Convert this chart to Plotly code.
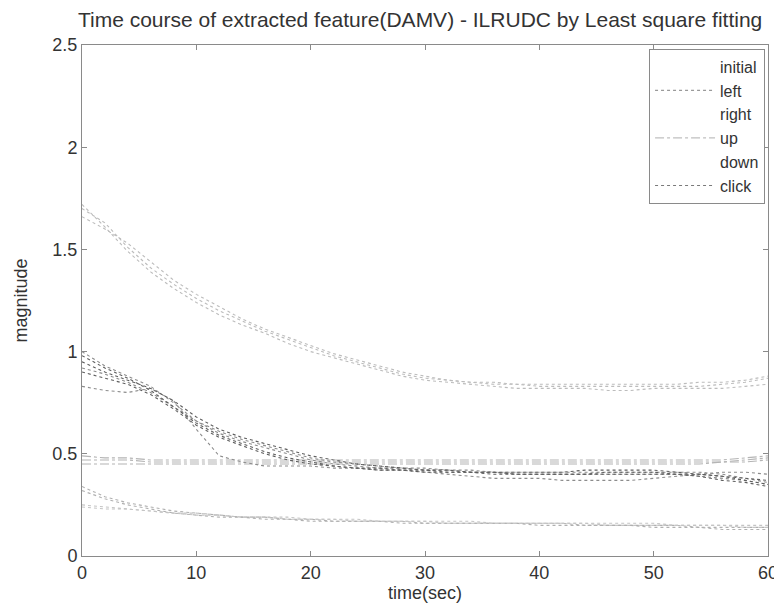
import plotly.graph_objects as go

# time axis (sec)
time_sec = [0, 2, 4, 6, 8, 10, 12, 14, 16, 18, 20, 22, 24, 26, 28, 30,
            32, 34, 36, 38, 40, 42, 44, 46, 48, 50, 52, 54, 56, 58, 60]

# upper group
right_1 = [1.70, 1.63, 1.51, 1.41, 1.33, 1.26, 1.20, 1.15, 1.10, 1.06, 1.02, 0.98, 0.95, 0.92, 0.89, 0.87,
           0.86, 0.85, 0.84, 0.84, 0.83, 0.83, 0.83, 0.83, 0.83, 0.83, 0.83, 0.83, 0.84, 0.85, 0.87]
right_2 = [1.66, 1.60, 1.53, 1.44, 1.35, 1.28, 1.22, 1.16, 1.11, 1.07, 1.03, 0.99, 0.96, 0.93, 0.90, 0.88,
           0.86, 0.85, 0.85, 0.84, 0.84, 0.84, 0.84, 0.84, 0.84, 0.84, 0.84, 0.85, 0.85, 0.86, 0.88]
right_3 = [1.72, 1.61, 1.49, 1.39, 1.31, 1.24, 1.18, 1.13, 1.09, 1.04, 1.00, 0.97, 0.94, 0.91, 0.88, 0.86,
           0.85, 0.84, 0.83, 0.82, 0.82, 0.82, 0.82, 0.81, 0.81, 0.82, 0.82, 0.82, 0.82, 0.83, 0.84]

# descending middle group
left_1 = [1.00, 0.93, 0.88, 0.83, 0.75, 0.66, 0.60, 0.56, 0.53, 0.50, 0.47, 0.45, 0.44, 0.43, 0.43, 0.42,
          0.42, 0.41, 0.41, 0.40, 0.40, 0.40, 0.40, 0.40, 0.40, 0.40, 0.40, 0.39, 0.38, 0.37, 0.35]
left_2 = [0.92, 0.89, 0.85, 0.80, 0.73, 0.66, 0.61, 0.57, 0.54, 0.51, 0.48, 0.46, 0.45, 0.44, 0.43, 0.43,
          0.42, 0.42, 0.41, 0.41, 0.41, 0.41, 0.41, 0.41, 0.41, 0.41, 0.41, 0.41, 0.40, 0.38, 0.36]
left_3 = [0.83, 0.81, 0.80, 0.82, 0.76, 0.62, 0.49, 0.46, 0.44, 0.44, 0.44, 0.43, 0.43, 0.42, 0.42, 0.41,
          0.40, 0.39, 0.38, 0.38, 0.38, 0.37, 0.37, 0.37, 0.37, 0.38, 0.39, 0.40, 0.41, 0.41, 0.40]
click_1 = [0.98, 0.92, 0.87, 0.81, 0.73, 0.65, 0.59, 0.55, 0.51, 0.48, 0.46, 0.44, 0.43, 0.42, 0.42, 0.41,
           0.41, 0.41, 0.40, 0.40, 0.40, 0.40, 0.40, 0.41, 0.41, 0.41, 0.40, 0.39, 0.37, 0.36, 0.34]
click_2 = [0.95, 0.90, 0.86, 0.82, 0.76, 0.68, 0.62, 0.58, 0.55, 0.52, 0.49, 0.47, 0.45, 0.44, 0.43, 0.42,
           0.42, 0.41, 0.41, 0.41, 0.41, 0.41, 0.42, 0.42, 0.42, 0.42, 0.41, 0.40, 0.39, 0.37, 0.35]
click_3 = [0.90, 0.87, 0.84, 0.79, 0.72, 0.64, 0.58, 0.54, 0.50, 0.47, 0.45, 0.44, 0.43, 0.43, 0.42, 0.42,
           0.41, 0.41, 0.41, 0.40, 0.40, 0.40, 0.40, 0.40, 0.40, 0.40, 0.40, 0.40, 0.39, 0.38, 0.37]

# flat group
up_1 = [0.47, 0.47, 0.47, 0.46, 0.46, 0.46, 0.46, 0.46, 0.46, 0.46, 0.46, 0.46, 0.46, 0.46, 0.46, 0.46,
        0.46, 0.46, 0.46, 0.46, 0.46, 0.46, 0.46, 0.46, 0.46, 0.46, 0.46, 0.46, 0.46, 0.47, 0.48]
up_2 = [0.45, 0.45, 0.45, 0.45, 0.45, 0.45, 0.45, 0.45, 0.45, 0.45, 0.45, 0.45, 0.45, 0.45, 0.45, 0.45,
        0.45, 0.45, 0.45, 0.45, 0.45, 0.45, 0.45, 0.45, 0.45, 0.45, 0.45, 0.45, 0.46, 0.46, 0.47]
up_3 = [0.49, 0.48, 0.48, 0.47, 0.47, 0.47, 0.47, 0.47, 0.47, 0.47, 0.47, 0.47, 0.47, 0.47, 0.47, 0.47,
        0.47, 0.47, 0.47, 0.47, 0.47, 0.47, 0.47, 0.47, 0.47, 0.47, 0.47, 0.47, 0.47, 0.48, 0.49]

# lower group
down_1 = [0.34, 0.29, 0.26, 0.24, 0.22, 0.21, 0.20, 0.19, 0.19, 0.18, 0.18, 0.17, 0.17, 0.17, 0.17, 0.16,
          0.16, 0.16, 0.16, 0.16, 0.16, 0.16, 0.15, 0.15, 0.15, 0.15, 0.15, 0.14, 0.14, 0.14, 0.14]
down_2 = [0.32, 0.28, 0.25, 0.23, 0.21, 0.20, 0.19, 0.19, 0.18, 0.18, 0.17, 0.17, 0.17, 0.17, 0.16, 0.16,
          0.16, 0.16, 0.16, 0.16, 0.15, 0.15, 0.15, 0.15, 0.15, 0.14, 0.14, 0.14, 0.13, 0.13, 0.13]
initial_1 = [0.24, 0.23, 0.23, 0.22, 0.21, 0.20, 0.20, 0.19, 0.19, 0.18, 0.18, 0.18, 0.17, 0.17, 0.17, 0.17,
             0.16, 0.16, 0.16, 0.16, 0.16, 0.16, 0.16, 0.15, 0.15, 0.15, 0.15, 0.15, 0.15, 0.15, 0.15]
initial_2 = [0.25, 0.24, 0.23, 0.22, 0.21, 0.21, 0.20, 0.19, 0.19, 0.19, 0.18, 0.18, 0.18, 0.17, 0.17, 0.17,
             0.17, 0.17, 0.16, 0.16, 0.16, 0.16, 0.16, 0.16, 0.16, 0.16, 0.15, 0.15, 0.15, 0.14, 0.14]

legend_labels = ["initial", "left", "right", "up", "down", "click"]
x_ticks = [0, 10, 20, 30, 40, 50, 60]
y_ticks = [0, 0.5, 1, 1.5, 2, 2.5]
y_tick_text = ["0", "0.5", "1", "1.5", "2", "2.5"]

styles = {
    "initial": dict(color="#c4c4c4", dash="dot"),
    "left": dict(color="#8c8c8c", dash="dot"),
    "right": dict(color="#bcbcbc", dash="dot"),
    "up": dict(color="#b4b4b4", dash="dashdot"),
    "down": dict(color="#b0b0b0", dash="dot"),
    "click": dict(color="#5e5e5e", dash="dot"),
}
legend_styles = {
    "initial": dict(color="rgba(255,255,255,0)", dash="solid"),
    "left": dict(color="#9a9a9a", dash="dot"),
    "right": dict(color="rgba(255,255,255,0)", dash="solid"),
    "up": dict(color="#c0c0c0", dash="dashdot"),
    "down": dict(color="rgba(255,255,255,0)", dash="solid"),
    "click": dict(color="#7a7a7a", dash="dot"),
}
series = {
    "right": [right_1, right_2, right_3],
    "up": [up_1, up_2, up_3],
    "down": [down_1, down_2],
    "initial": [initial_1, initial_2],
    "left": [left_1, left_2, left_3],
    "click": [click_1, click_2, click_3],
}

FONT = "Liberation Sans, Arial"
fig = go.Figure()
for name, trials in series.items():
    for vals in trials:
        fig.add_trace(go.Scatter(x=time_sec, y=vals, mode="lines", showlegend=False,
                                 line=dict(width=1.1, **styles[name]), hoverinfo="skip"))
for name in legend_labels:
    fig.add_trace(go.Scatter(x=[None], y=[None], mode="lines", name=name,
                             line=dict(width=1.2, **legend_styles[name])))

axis_common = dict(showgrid=False, zeroline=False, showline=True, linecolor="#8a8a8a", linewidth=1,
                   mirror="ticks", ticks="inside", ticklen=5, tickcolor="#8a8a8a",
                   tickfont=dict(family=FONT, size=18, color="#333333"))

fig.update_layout(
    width=782, height=603,
    margin=dict(l=72, r=13, t=37, b=54),
    paper_bgcolor="white", plot_bgcolor="white",
    title=dict(text="Time course of extracted feature(DAMV) - ILRUDC by Least square fitting",
               x=0.527, xanchor="center", y=0.98, yanchor="middle",
               font=dict(family=FONT, size=21, color="#333333")),
    xaxis=dict(range=[0, 60], tickvals=x_ticks, title=dict(text="time(sec)", standoff=4,
               font=dict(family=FONT, size=18, color="#333333")), **axis_common),
    yaxis=dict(range=[0, 2.5], tickvals=y_ticks, ticktext=y_tick_text,
               title=dict(text="magnitude", standoff=20,
                          font=dict(family=FONT, size=18, color="#333333")),
               **axis_common),
    legend=dict(x=0.9957, y=0.993, xanchor="right", yanchor="top",
                bordercolor="#8a8a8a", borderwidth=1, bgcolor="white",
                font=dict(family=FONT, size=16, color="#333333"),
                tracegroupgap=0, itemwidth=60),
)

fig.write_html("out.html")
